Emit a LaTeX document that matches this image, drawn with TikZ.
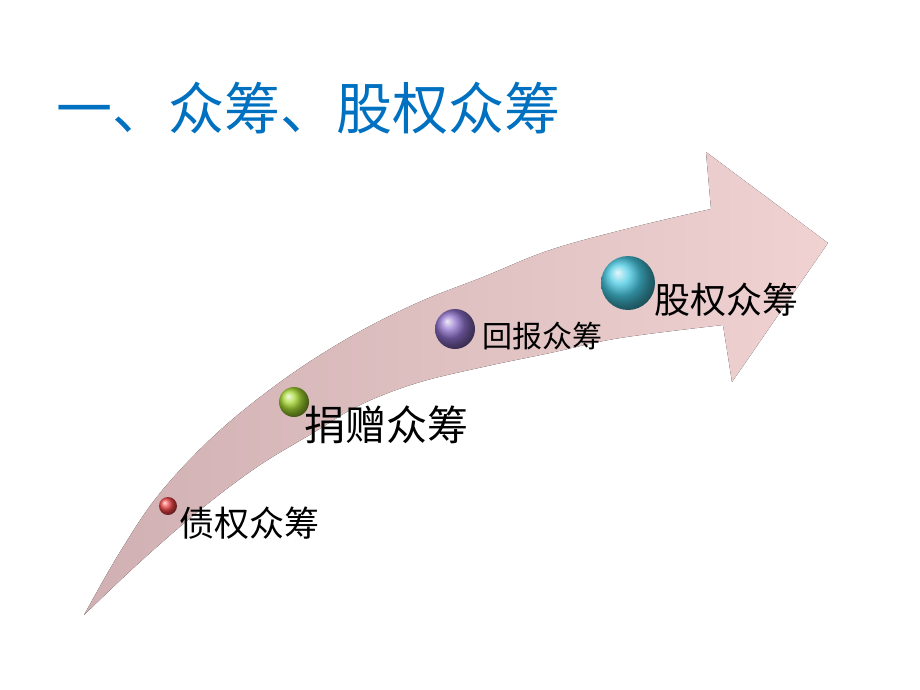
\documentclass[tikz,border=0pt]{standalone}
\usepackage{fontspec}
\setmainfont{Noto Sans CJK SC}
\definecolor{titleblue}{RGB}{0,112,192}
\definecolor{arrowtail}{RGB}{208,176,178}
\definecolor{arrowhead}{RGB}{240,210,210}
\definecolor{debtred}{RGB}{235,70,70}
\definecolor{donategreen}{RGB}{165,215,50}
\definecolor{rewardviolet}{RGB}{140,110,200}
\definecolor{equitycyan}{RGB}{70,200,225}
\tikzset{
  ball/.style={circle, inner sep=0pt, shading=ball},
  stage/.style={anchor=west, inner sep=0pt, text=black}
}
\begin{document}
\begin{tikzpicture}[x=1pt, y=-1pt]
            \useasboundingbox (0, 0) rectangle (920, 690);

            % curved arrow
            \fill[left color=arrowtail, right color=arrowhead]
                plot[smooth, tension=0.6] coordinates {(84, 615) (120, 552) (160, 493) (217, 433) (283, 380) (350, 337) (417, 303) (483, 277) (550, 250) (630, 228) (711, 209)}
                -- (706, 152) -- (828, 243) -- (732, 382)
                -- plot[smooth, tension=0.6] coordinates {(723, 325) (620, 338) (550, 353) (483, 367) (417, 383) (360, 405) (313, 433) (257, 467) (200, 510) (140, 562) (84, 615)}
                -- cycle;

            \node[anchor=west, inner sep=0pt, text=titleblue, font=\fontsize{56}{60}\selectfont] (title) at (56, 108) {一、众筹、股权众筹};

            \node[ball, ball color=debtred, minimum size=18] (debt) at (168, 506) {};
            \node[ball, ball color=donategreen, minimum size=30] (donate) at (294, 402) {};
            \node[ball, ball color=rewardviolet, minimum size=40] (reward) at (455, 329) {};
            \node[ball, ball color=equitycyan, minimum size=54] (equity) at (628, 283) {};

            \node[stage, font=\fontsize{35}{40}\selectfont] (debtlbl) at (179, 523) {债权众筹};
            \node[stage, font=\fontsize{41}{46}\selectfont] (donatelbl) at (304, 425) {捐赠众筹};
            \node[stage, font=\fontsize{30}{36}\selectfont] (rewardlbl) at (482, 336) {回报众筹};
            \node[stage, font=\fontsize{36}{40}\selectfont] (equitylbl) at (654, 300) {股权众筹};
        \end{tikzpicture}
\end{document}
